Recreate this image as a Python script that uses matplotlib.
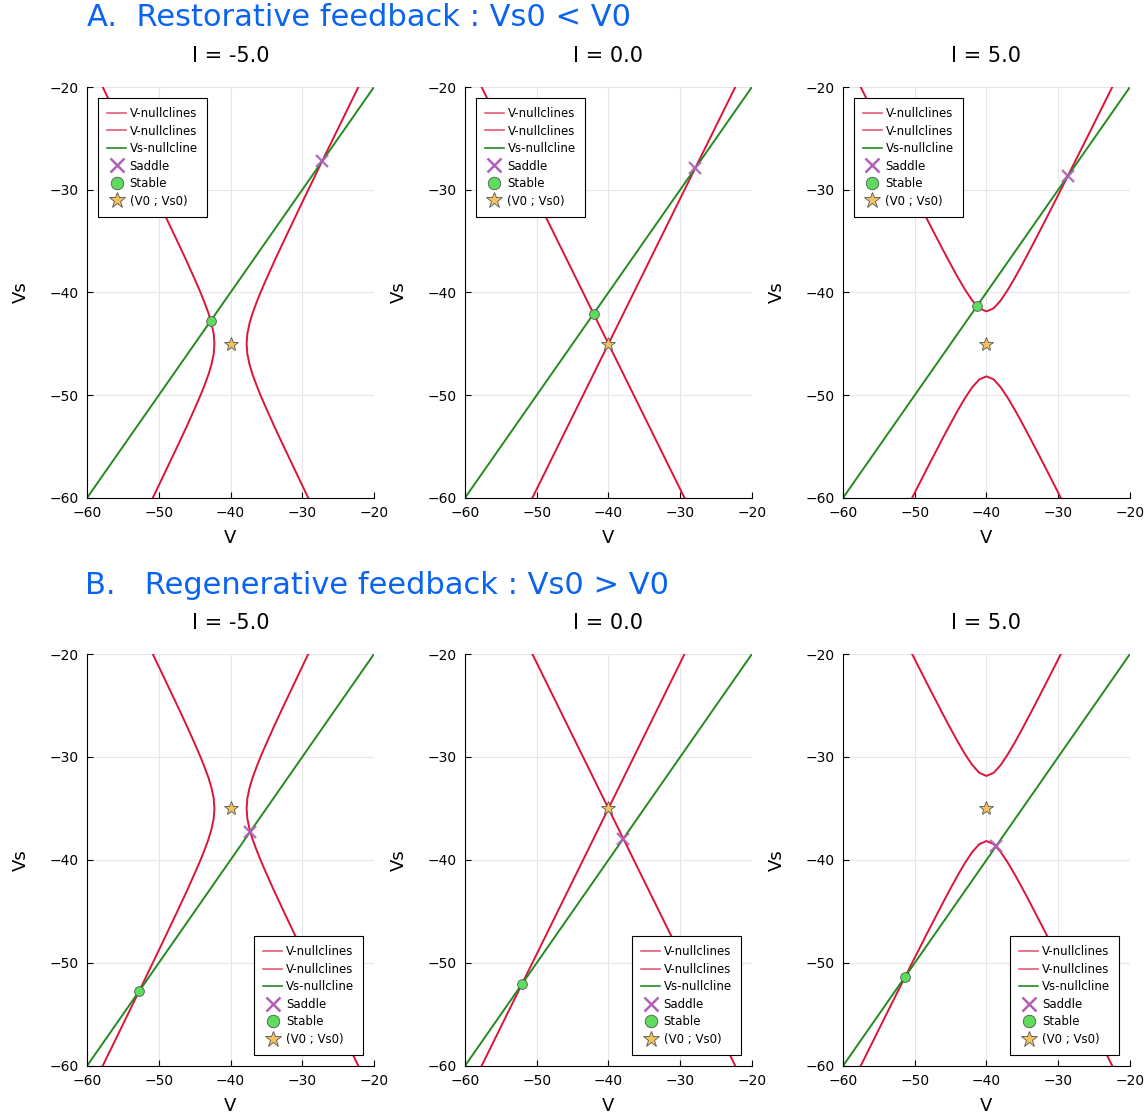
import numpy as np
import matplotlib.pyplot as plt
from matplotlib.lines import Line2D

# model parameters
V0 = -40.0
Vs0_A = -45.0  # restorative
Vs0_B = -35.0  # regenerative
I_values = [-5.0, 0.0, 5.0]

# V-nullcline for I < 0 : two branches opening left/right, offsets from (V0, Vs0)
neg_dvs = [-26, -22, -18, -14, -10, -8, -6, -5, -4, -3, -2, -1, 0,
           1, 2, 3, 4, 5, 6, 8, 10, 14, 18, 22, 26]
neg_dv = [18.52, 15.72, 12.92, 10.15, 7.42, 6.08, 4.80, 4.18, 3.61, 3.08, 2.65, 2.35, 2.24,
          2.35, 2.65, 3.08, 3.61, 4.18, 4.80, 6.08, 7.42, 10.15, 12.92, 15.72, 18.52]

# V-nullcline for I = 0 : two crossing lines
zero_dv = [-22, 22]
zero_dvs = [-31.11, 31.11]

# V-nullcline for I > 0 : two branches opening up/down
pos_dv = [-22, -18, -14, -10, -8, -6, -5, -4, -3, -2, -1, 0,
          1, 2, 3, 4, 5, 6, 8, 10, 14, 18, 22]
pos_dvs = [31.27, 25.65, 20.05, 14.49, 11.75, 9.06, 7.75, 6.48, 5.29, 4.24, 3.46, 3.16,
           3.46, 4.24, 5.29, 6.48, 7.75, 9.06, 11.75, 14.49, 20.05, 25.65, 31.27]

# Vs-nullcline : Vs = V
vs_line = [-60, -20]

# fixed points (on Vs = V)
saddle_A = [-27.25, -27.93, -28.68]
stable_A = [-42.75, -42.07, -41.32]
saddle_B = [-37.25, -37.93, -38.68]
stable_B = [-52.75, -52.07, -51.32]

red = '#dc143c'
green = '#228b22'
purple = '#b060b8'
lgreen = '#5ddc5d'
gold = '#f3c25e'
blue = '#0a64f0'

plt.rcParams['font.family'] = 'DejaVu Sans'

fig = plt.figure(figsize=(11.48, 11.17), dpi=100)

lefts = [0.0758, 0.405, 0.7343]
rows = [(0.5542, 0.3679, Vs0_A, saddle_A, stable_A, 'upper left'),
        (0.0457, 0.3688, Vs0_B, saddle_B, stable_B, 'lower right')]

for bottom, height, Vs0, saddles, stables, loc in rows:
    for j, I in enumerate(I_values):
        ax = fig.add_axes([lefts[j], bottom, 0.25, height])
        if I < 0:
            d = np.array(neg_dv); s = np.array(neg_dvs)
            ax.plot(V0 - d, Vs0 + s, color=red, lw=1.4)
            ax.plot(V0 + d, Vs0 + s, color=red, lw=1.4)
        elif I == 0:
            d = np.array(zero_dv); s = np.array(zero_dvs)
            ax.plot(V0 + d, Vs0 + s, color=red, lw=1.4)
            ax.plot(V0 + d, Vs0 - s, color=red, lw=1.4)
        else:
            d = np.array(pos_dv); s = np.array(pos_dvs)
            ax.plot(V0 + d, Vs0 + s, color=red, lw=1.4)
            ax.plot(V0 + d, Vs0 - s, color=red, lw=1.4)
        ax.plot(vs_line, vs_line, color=green, lw=1.4)
        ax.plot(saddles[j], saddles[j], marker='x', ms=9, mew=1.7, color=purple, alpha=0.9, ls='none')
        ax.plot(stables[j], stables[j], marker='o', ms=7, mfc=lgreen, mec='#555555', mew=0.6, ls='none')
        ax.plot(V0, Vs0, marker='*', ms=10, mfc=gold, mec='#555555', mew=0.6, ls='none')

        ax.set_xlim(-60, -20)
        ax.set_ylim(-60, -20)
        ax.set_xticks([-60, -50, -40, -30, -20])
        ax.set_yticks([-60, -50, -40, -30, -20])
        ax.grid(True, color='#e6e6e6', lw=0.8)
        ax.set_axisbelow(True)
        for sp in ['top', 'right']:
            ax.spines[sp].set_visible(False)
        ax.tick_params(direction='in', length=4, labelsize=10, pad=6)
        ax.set_xlabel('V', fontsize=13, labelpad=6)
        ax.set_ylabel('Vs', fontsize=13, labelpad=14)
        ax.set_title('I = %.1f' % I, fontsize=15, pad=18)

        handles = [Line2D([], [], color=red, lw=1.2, alpha=0.7),
                   Line2D([], [], color=red, lw=1.2, alpha=0.7),
                   Line2D([], [], color=green, lw=1.2),
                   Line2D([], [], marker='x', ms=10, mew=1.8, color=purple, ls='none'),
                   Line2D([], [], marker='o', ms=9, mfc=lgreen, mec='#555555', mew=0.6, ls='none'),
                   Line2D([], [], marker='*', ms=12, mfc=gold, mec='#555555', mew=0.6, ls='none')]
        labels = ['V-nullclines', 'V-nullclines', 'Vs-nullcline', 'Saddle', 'Stable', '(V0 ; Vs0)']
        leg = ax.legend(handles, labels, loc=loc, fontsize=8.5, fancybox=False,
                        edgecolor='black', framealpha=1, handlelength=1.6,
                        handletextpad=0.3, labelspacing=0.38, borderpad=0.8,
                        borderaxespad=0.9)
        leg.get_frame().set_linewidth(0.8)

fig.text(0.0758, 0.984, 'A.  Restorative feedback : Vs0 < V0', color=blue,
         fontsize=22, va='center', ha='left')
fig.text(0.074, 0.4754, 'B.   Regenerative feedback : Vs0 > V0', color=blue,
         fontsize=22, va='center', ha='left')

fig.savefig('out.png', dpi=100)
